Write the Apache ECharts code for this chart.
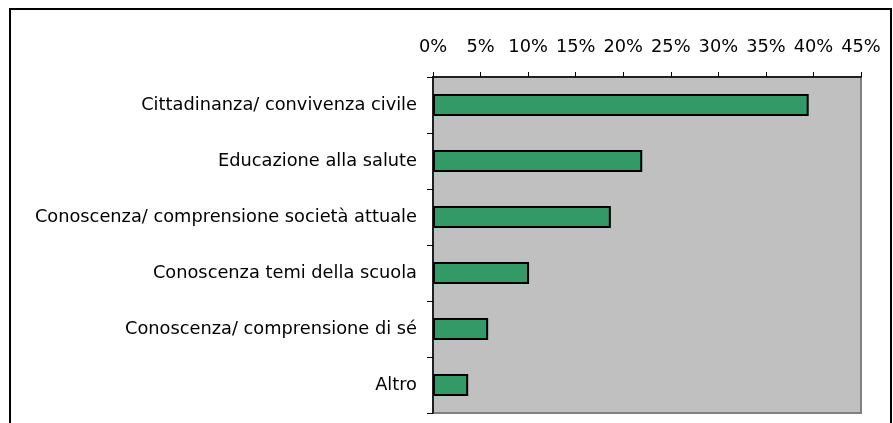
<!DOCTYPE html>
<html>
<head>
<meta charset="utf-8">
<script src="https://cdn.jsdelivr.net/npm/echarts@6/dist/echarts.min.js"></script>
<style>html,body{margin:0;padding:0;background:#fff;}#c{width:893px;height:423px;}</style>
</head>
<body>
<div id="c"></div>
<script>
const categories = [
  "Cittadinanza/ convivenza civile",
  "Educazione alla salute",
  "Conoscenza/ comprensione società attuale",
  "Conoscenza temi della scuola",
  "Conoscenza/ comprensione di sé",
  "Altro"
];
const values = [39.5, 22.0, 18.7, 10.1, 5.8, 3.7];
const xTicks = { min: 0, max: 45, interval: 5 };

const chart = echarts.init(document.getElementById('c'), null, { renderer: 'canvas' });
const font = { fontFamily: 'DejaVu Sans', fontSize: 17.8, color: '#000' };
chart.setOption({
  animation: false,
  backgroundColor: '#fff',
  grid: {
    left: 433, right: 32, top: 77, bottom: 10,
    show: true, backgroundColor: '#C0C0C0', borderColor: '#808080', borderWidth: 2
  },
  xAxis: {
    type: 'value', position: 'top',
    min: xTicks.min, max: xTicks.max, interval: xTicks.interval,
    axisLine: { show: true, lineStyle: { color: '#000', width: 1.5 } },
    axisTick: { show: true, length: 5, lineStyle: { color: '#000', width: 1 } },
    splitLine: { show: false },
    axisLabel: Object.assign({ margin: 21, formatter: '{value}%' }, font)
  },
  yAxis: {
    type: 'category', data: categories, inverse: true,
    axisLine: { show: true, lineStyle: { color: '#000', width: 1.5 } },
    axisTick: { show: true, length: 6, lineStyle: { color: '#000', width: 1 } },
    axisLabel: Object.assign({ margin: 16 }, font)
  },
  series: [{
    type: 'bar', data: values, barWidth: 22,
    itemStyle: { color: '#339966', borderColor: '#000', borderWidth: 2 }
  }],
  graphic: [{
    type: 'rect', silent: true, z: 100,
    shape: { x: 10, y: 9, width: 881, height: 430 },
    style: { fill: 'none', stroke: '#000', lineWidth: 2 }
  }]
});
</script>
</body>
</html>
